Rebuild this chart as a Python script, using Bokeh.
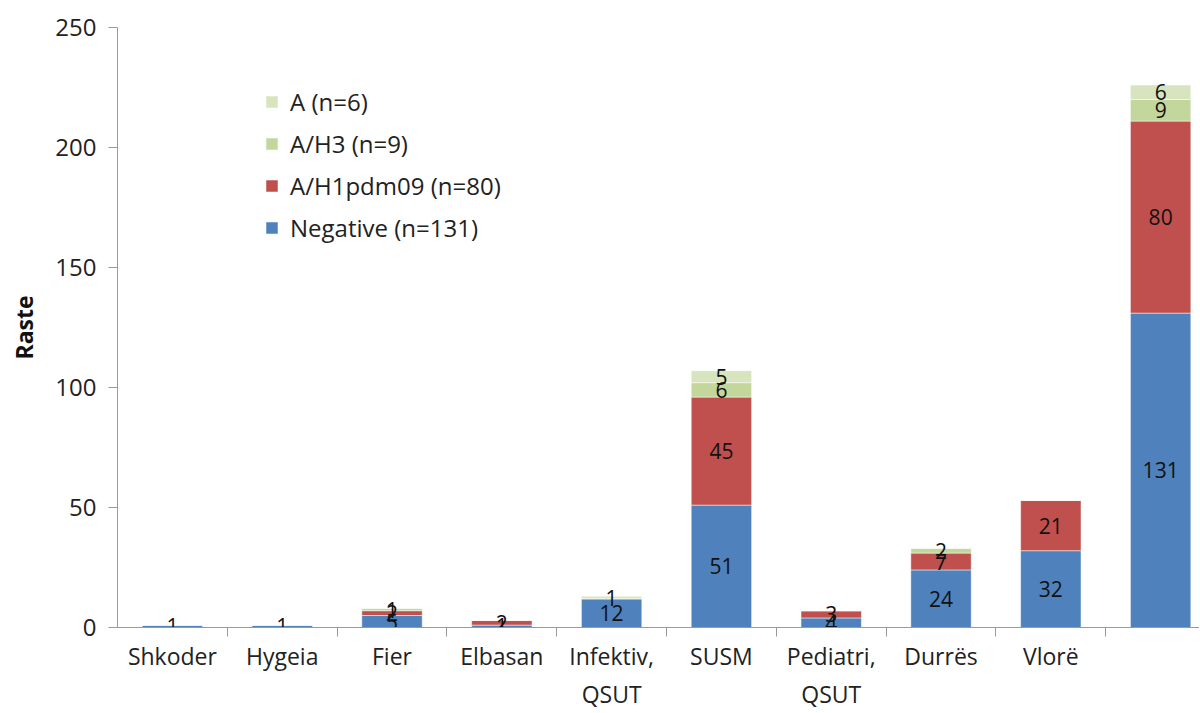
from bokeh.plotting import figure
from bokeh.models import ColumnDataSource, FixedTicker, Range1d, Legend, LegendItem
from bokeh.embed import file_html
from bokeh.resources import INLINE
from bokeh.core.properties import value

categories = ["Shkoder", "Hygeia", "Fier", "Elbasan", "Infektiv,\nQSUT", "SUSM",
              "Pediatri,\nQSUT", "Durrës", "Vlorë", ""]
negative = [1, 1, 5, 1, 12, 51, 4, 24, 32, 131]
h1pdm09 = [0, 0, 2, 2, 0, 45, 3, 7, 21, 80]
h3 = [0, 0, 1, 0, 0, 6, 0, 2, 0, 9]
a_unsub = [0, 0, 0, 0, 1, 5, 0, 0, 0, 6]

series = ["negative", "h1", "h3", "a"]
series_vals = [negative, h1pdm09, h3, a_unsub]
colors = ["#4F81BD", "#C0504D", "#C3D69B", "#D7E4BD"]
legend_labels = ["Negative (n=131)", "A/H1pdm09 (n=80)", "A/H3 (n=9)", "A (n=6)"]
y_ticks = [0, 50, 100, 150, 200, 250]

FONT = "Open Sans"
xs = list(range(len(categories)))

data = {"x": xs}
for name, vals in zip(series, series_vals):
    data[name] = vals
source = ColumnDataSource(data)

p = figure(width=1199, height=712, output_backend="svg", toolbar_location=None,
           x_range=Range1d(-0.5, 9.354), y_range=Range1d(0, 250),
           min_border_left=117, min_border_right=0, min_border_top=27,
           min_border_bottom=83)
p.outline_line_color = None
p.xgrid.visible = False
p.ygrid.visible = False

renderers = p.vbar_stack(series, x="x", width=0.55, color=colors, source=source,
                         line_color="white", line_width=0.5)

# data labels
lx, ly, lt = [], [], []
for i in xs:
    base = 0
    for vals in series_vals:
        v = vals[i]
        if v > 0:
            lx.append(i)
            ly.append(base + v / 2)
            lt.append(str(v))
        base += v
p.text(x=lx, y=ly, text=lt, text_align="center", text_baseline="middle",
       text_font=value(FONT), text_font_size="21px", text_color="#111111")

legend = Legend(items=[LegendItem(label=lab, renderers=[r])
                       for lab, r in reversed(list(zip(legend_labels, renderers)))],
                location=(147, 383), orientation="vertical")
legend.label_text_font = FONT
legend.label_text_font_size = "24px"
legend.label_text_color = "#222222"
legend.glyph_width = 15
legend.glyph_height = 15
legend.label_height = 24
legend.label_standoff = 11
legend.spacing = 9
legend.padding = 0
legend.margin = 0
legend.border_line_color = None
legend.background_fill_alpha = 0
p.add_layout(legend)

# x axis
p.xaxis.ticker = FixedTicker(ticks=xs, minor_ticks=[i + 0.5 for i in xs[:-1]])
p.xaxis.major_label_overrides = {i: c for i, c in zip(xs, categories)}
p.xaxis.major_tick_out = 0
p.xaxis.major_tick_in = 0
p.xaxis.minor_tick_out = 9
p.xaxis.minor_tick_in = 0
p.xaxis.axis_line_color = "#9A9A9A"
p.xaxis.minor_tick_line_color = "#9A9A9A"
p.xaxis.major_label_text_font = FONT
p.xaxis.major_label_text_font_size = "23px"
p.xaxis.major_label_text_color = "#222222"
p.xaxis.major_label_standoff = 3

# y axis
p.yaxis.ticker = FixedTicker(ticks=y_ticks)
p.yaxis.minor_tick_line_color = None
p.yaxis.major_tick_out = 9
p.yaxis.major_tick_in = 0
p.yaxis.axis_line_color = "#9A9A9A"
p.yaxis.major_tick_line_color = "#9A9A9A"
p.yaxis.major_label_text_font = FONT
p.yaxis.major_label_text_font_size = "24px"
p.yaxis.major_label_text_color = "#222222"
p.yaxis.major_label_standoff = 12
p.yaxis.axis_label = "Raste"
p.yaxis.axis_label_text_font = FONT
p.yaxis.axis_label_text_font_style = "bold"
p.yaxis.axis_label_text_font_size = "23px"
p.yaxis.axis_label_text_color = "#111111"
p.yaxis.axis_label_standoff = 12

open("out.html", "w").write(file_html(p, INLINE))
